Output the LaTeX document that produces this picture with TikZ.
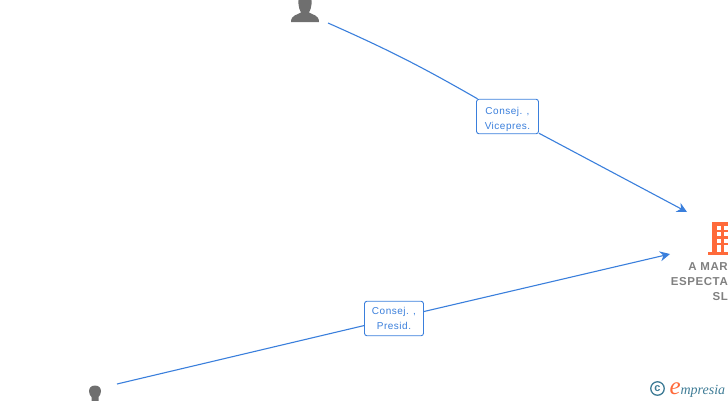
\documentclass[tikz,border=0pt]{standalone}
\usepackage{xcolor}
\usepackage{fontspec}
\setmainfont{Liberation Sans}
\usetikzlibrary{arrows.meta, positioning}
\definecolor{linkblue}{HTML}{3A7FDC}
\definecolor{icongray}{HTML}{6F6F6F}
\definecolor{firmgray}{HTML}{808080}
\definecolor{brickred}{HTML}{FF6A3A}
\definecolor{logoteal}{HTML}{3F7C96}
\newfontfamily\logofont{Liberation Serif}
\newfontfamily\firmfont[LetterSpace=5]{Liberation Sans}
\newfontfamily\rolefont[LetterSpace=5]{Liberation Sans}

\begin{document}
\begin{tikzpicture}[x=1pt, y=-1pt,
    link/.style={linkblue, line width=1.1pt},
    linktip/.style={-{Stealth[length=10pt,width=10pt]}},
    role/.style={draw=linkblue, fill=white, rounded corners=2.5pt, line width=0.9pt, text=linkblue,
        font=\rolefont\fontsize{10}{15}\selectfont, align=center, inner sep=0pt},
    firm/.style={text=firmgray, font=\firmfont\fontsize{11.5}{15}\selectfont\bfseries, align=right, inner sep=0pt}]

    \useasboundingbox (0,0) rectangle (728,400);

    % Iconos
    \fill[icongray] (291,22) .. controls (291,15) and (297,15) .. (301,12.5)
        .. controls (298,8) and (298,0) .. (299,-2) -- (311,-2)
        .. controls (312,0) and (312,8) .. (309,12.5)
        .. controls (313,15) and (319,15) .. (319,22) -- cycle;
    \fill[icongray] (95,385.5) .. controls (91,385.5) and (89,388) .. (89,391.5)
        .. controls (89,394) and (90.5,396) .. (91.5,397) -- (91.5,401) -- (98.5,401) -- (98.5,397)
        .. controls (99.5,396) and (101,394) .. (101,391.5)
        .. controls (101,388) and (99,385.5) .. (95,385.5) -- cycle;
    \fill[brickred] (712,222) rectangle (729,252);
    \fill[brickred] (708,252) rectangle (729,255);
    \foreach \y/\h in {226/4, 232/4, 238.5/4, 245/7} {
        \fill[white] (717,\y) rectangle +(4,\h);
        \fill[white] (723.5,\y) rectangle +(4,\h);
    }

    % Nodos
    \coordinate (vicefrom) at (328,23);
    \coordinate (viceto) at (687,212);
    \coordinate (presfrom) at (117,384);
    \coordinate (presto) at (670,254);
    \node[role, minimum width=62pt, minimum height=34.5pt] (vicepres) at (507.5,116.5) {\rule{0pt}{14pt}Consej. ,\\Vicepres.};
    \node[role, minimum width=59pt, minimum height=34.5pt] (presid) at (394,318.5) {Consej. ,\\Presid.};

    % Enlaces
    \draw[link] (vicefrom) to[bend left=3] (vicepres);
    \draw[link, linktip] (vicepres) -- (viceto);
    \draw[link] (presfrom) -- (presid);
    \draw[link, linktip] (presid) -- (presto);

    % Empresa
    \node[firm, anchor=north east] (firmname) at (728,262) {A MAR\\ESPECTA\\SL};

    % Logo
    \node[logoteal, draw, circle, line width=1.3pt, inner sep=0pt, minimum size=13.5pt,
        font=\fontsize{11}{11}\selectfont\bfseries] (copyright) at (657.5,388.5) {c};
    \node[right=4.5pt of copyright, inner sep=0pt, text=brickred, yshift=-0.5pt,
        font=\logofont\fontsize{25}{25}\selectfont\itshape] (logoe) {e};
    \node[anchor=base west, inner sep=0pt, text=logoteal, xshift=-0.5pt,
        font=\logofont\fontsize{14}{14}\selectfont\itshape] (logotext) at (logoe.base east) {mpresia};
\end{tikzpicture}
\end{document}
